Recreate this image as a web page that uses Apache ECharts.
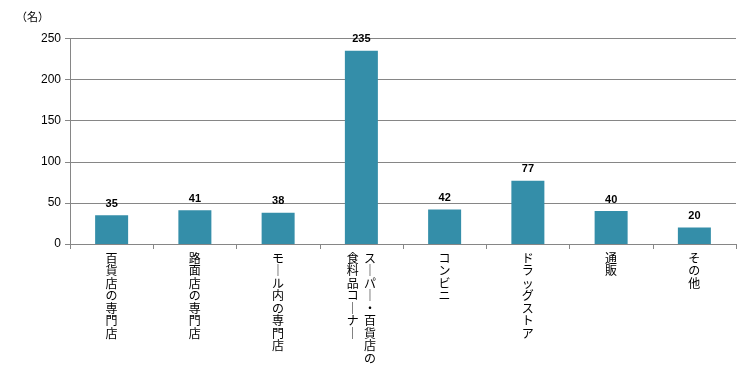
<!DOCTYPE html>
<html><head><meta charset="utf-8">
<script src="https://cdn.jsdelivr.net/npm/echarts@6/dist/echarts.min.js"></script>
<style>html,body{margin:0;padding:0;background:#fff}#c{width:756px;height:378px}</style>
</head><body><div id="c"></div>
<script>
var categories = ["百貨店の専門店","路面店の専門店","モール内の専門店","スーパー・百貨店の\n食料品コーナー","コンビニ","ドラッグストア","通販","その他"];
var values = [35,41,38,235,42,77,40,20];
var yTicks = {min:0,max:250,interval:50};
var unitLabel = "（名）";

function vert(s){
  var cols = s.split('\n').map(function(c){return Array.from(c.replace(/ー/g,'｜'));});
  if(cols.length===1) return cols[0].join('\n');
  // vertical writing: first column on right, next on left
  var right = cols[0], left = cols[1];
  var n = Math.max(right.length,left.length), out=[];
  for(var i=0;i<n;i++){
    out.push((left[i]||'　')+'  '+(right[i]||'　'));
  }
  return out.join('\n');
}

var chart = echarts.init(document.getElementById('c'));
chart.setOption({
  animation:false,
  textStyle:{fontFamily:'"Noto Sans CJK JP","Noto Sans",sans-serif'},
  grid:{left:70,right:20,top:38.5,bottom:134},
  graphic:[{type:'text',left:16,top:11,style:{text:unitLabel,fontSize:11,fill:'#000',fontFamily:'"Noto Sans CJK JP",sans-serif'}}],
  xAxis:{type:'category',data:categories,
    axisLine:{lineStyle:{color:'#868686',width:1}},
    axisTick:{show:true,length:5,lineStyle:{color:'#868686'},alignWithLabel:false},
    axisLabel:{interval:0,color:'#000',fontSize:12,lineHeight:12.5,margin:8,verticalAlign:'top',formatter:function(v){return vert(v);}}
  },
  yAxis:{type:'value',min:yTicks.min,max:yTicks.max,interval:yTicks.interval,
    axisLine:{show:true,lineStyle:{color:'#868686'}},
    axisTick:{show:true,length:5,lineStyle:{color:'#868686'}},
    splitLine:{lineStyle:{color:'#868686',width:1}},
    axisLabel:{color:'#000',fontSize:12,margin:9,fontFamily:'"Liberation Sans",Arial,sans-serif'}
  },
  series:[{type:'bar',data:values,barWidth:33,itemStyle:{color:'#348EA9'},
    label:{show:true,position:'top',distance:6,color:'#000',fontWeight:'bold',fontSize:11,fontFamily:'"Liberation Sans",Arial,sans-serif'}}]
});
</script></body></html>
